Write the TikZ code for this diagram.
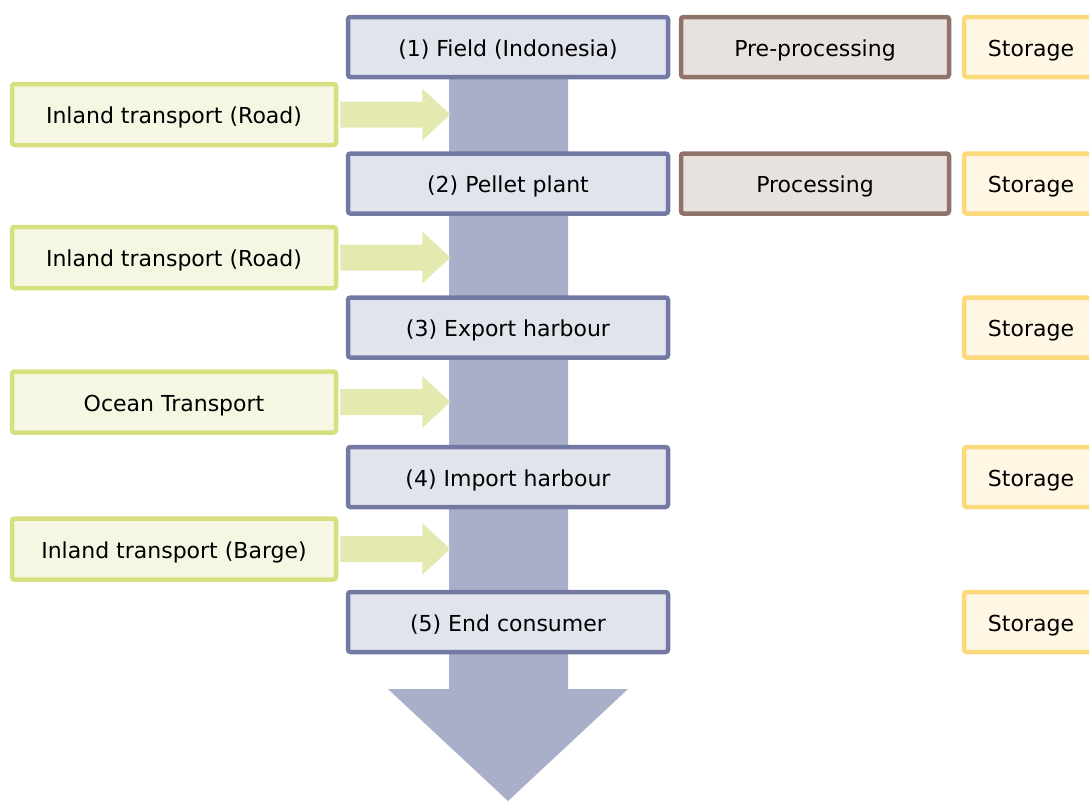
\documentclass[tikz,border=0pt]{standalone}
\usepackage{fontspec}
\setmainfont{DejaVu Sans}
\usetikzlibrary{calc}
\definecolor{mainfill}{HTML}{E1E4EC}
\definecolor{maindraw}{HTML}{7379A3}
\definecolor{shaftcol}{HTML}{AAAFC9}
\definecolor{procfill}{HTML}{E8E2DF}
\definecolor{procdraw}{HTML}{8F7268}
\definecolor{storfill}{HTML}{FFF7E3}
\definecolor{stordraw}{HTML}{FCD97A}
\definecolor{trfill}{HTML}{F5F7E2}
\definecolor{trdraw}{HTML}{D6E07F}
\definecolor{trarrow}{HTML}{E4EAAF}
\begin{document}
\begin{tikzpicture}[x=1pt,y=-1pt,
  basebox/.style={line width=4.5pt, rounded corners=2.5pt, inner sep=0pt,
    font=\fontsize{22}{24}\selectfont, text=black, text depth=0pt, text height=18pt},
  mainbox/.style={basebox, draw=maindraw, fill=mainfill, minimum width=320pt, minimum height=60pt},
  procbox/.style={basebox, draw=procdraw, fill=procfill, minimum width=268pt, minimum height=60pt},
  storbox/.style={basebox, draw=stordraw, fill=storfill, minimum width=134pt, minimum height=60pt},
  trbox/.style={basebox, draw=trdraw, fill=trfill, minimum width=324pt, minimum height=61pt},
  trarr/.style={fill=trarrow}
]
\useasboundingbox (0,0) rectangle (1089,803);
% big flow arrow (behind boxes)
\coordinate (tip) at (508,801);
\fill[shaftcol] (449,79) -- (568,79) -- (568,689) -- (628,689) -- (tip) -- (388,689) -- (449,689) -- cycle;

% main boxes
\node[mainbox] (m1) at (508,47) {(1) Field (Indonesia)};
\node[mainbox] (m2) at (508,183.5) {(2) Pellet plant};
\node[mainbox] (m3) at (508,327.5) {(3) Export harbour};
\node[mainbox] (m4) at (508,477) {(4) Import harbour};
\node[mainbox] (m5) at (508,622) {(5) End consumer};

% processing boxes
\node[procbox] (p1) at (815,47) {Pre-processing};
\node[procbox] (p2) at (815,183.5) {Processing};

% storage boxes
\node[storbox] (s1) at (1031,47) {Storage};
\node[storbox] (s2) at (1031,183.5) {Storage};
\node[storbox] (s3) at (1031,327.5) {Storage};
\node[storbox] (s4) at (1031,477) {Storage};
\node[storbox] (s5) at (1031,622) {Storage};

% transport boxes
\node[trbox] (t1) at (174,114.5) {Inland transport (Road)};
\node[trbox] (t2) at (174,257.5) {Inland transport (Road)};
\node[trbox] (t3) at (174,402) {Ocean Transport};
\node[trbox] (t4) at (174,549) {Inland transport (Barge)};

% transport arrows
\foreach \t in {t1,t2,t3,t4}{
  \coordinate (\t e) at ($(\t.east)+(2,0)$);
  \fill[trarr] ($(\t e)+(0,-13)$) -- ($(\t e)+(82,-13)$) -- ($(\t e)+(82,-26)$)
    -- ($(\t e)+(110,0)$) -- ($(\t e)+(82,26)$) -- ($(\t e)+(82,13)$) -- ($(\t e)+(0,13)$) -- cycle;
}
\end{tikzpicture}
\end{document}
